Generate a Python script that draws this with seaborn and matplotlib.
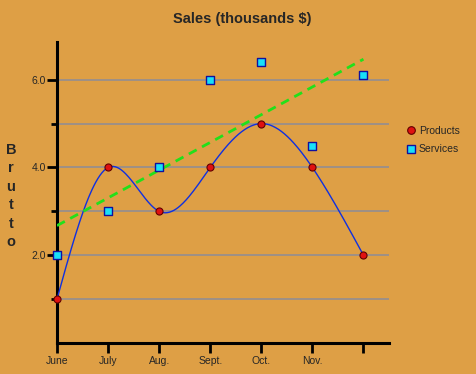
import numpy as np
import pandas as pd
import matplotlib
matplotlib.use("Agg")
import matplotlib.pyplot as plt
from matplotlib.lines import Line2D
import seaborn as sns

months = ["June", "July", "Aug.", "Sept.", "Oct.", "Nov.", ""]
products = [1.0, 4.0, 3.0, 4.0, 5.0, 4.0, 2.0]
services = [2.0, 3.0, 4.0, 6.0, 6.4, 4.5, 6.1]
ytick_major = [2.0, 4.0, 6.0]
ytick_minor = [1.0, 3.0, 5.0]
grid_levels = [1.0, 2.0, 3.0, 4.0, 5.0, 6.0]

sns.set_style("white")
plt.rcParams["font.family"] = ["Liberation Sans", "DejaVu Sans"]

bg = "#DE9F45"
fig = plt.figure(figsize=(4.76, 3.74), dpi=100, facecolor=bg)
ax = fig.add_axes([57/476, 1-343/374, (389-57)/476, (343-42)/374])
ax.set_facecolor(bg)

pos = np.arange(len(months))
df = pd.DataFrame({"pos": pos, "products": products, "services": services})

# natural cubic spline through product points (display smoothing)
def natural_spline(x, y, xs):
    x = np.asarray(x, float); y = np.asarray(y, float)
    n = len(x)
    h = np.diff(x)
    A = np.zeros((n, n)); b = np.zeros(n)
    A[0, 0] = 1; A[-1, -1] = 1
    for i in range(1, n-1):
        A[i, i-1] = h[i-1]; A[i, i] = 2*(h[i-1]+h[i]); A[i, i+1] = h[i]
        b[i] = 6*((y[i+1]-y[i])/h[i] - (y[i]-y[i-1])/h[i-1])
    M = np.linalg.solve(A, b)
    out = np.empty_like(xs)
    for k, t in enumerate(xs):
        i = min(max(np.searchsorted(x, t) - 1, 0), n-2)
        dx1 = x[i+1]-t; dx0 = t-x[i]
        out[k] = (M[i]*dx1**3 + M[i+1]*dx0**3)/(6*h[i]) + (y[i]/h[i] - M[i]*h[i]/6)*dx1 + (y[i+1]/h[i] - M[i+1]*h[i]/6)*dx0
    return out

xs = np.linspace(0, len(months)-1, 300)
curve = pd.DataFrame({"x": xs, "y": natural_spline(pos, products, xs)})

for g in grid_levels:
    ax.axhline(g, color="#8C8C98", lw=1.1, zorder=1)

sns.lineplot(data=curve, x="x", y="y", ax=ax, color="#1030E0", lw=1.0, sort=False, zorder=3)
sns.regplot(data=df, x="pos", y="services", ax=ax, scatter=False, ci=None, truncate=True,
            line_kws=dict(color="#22E01A", lw=2.0, ls=(0, (3.2, 2.2)), zorder=3))
sns.scatterplot(data=df, x="pos", y="products", ax=ax, s=26, color="#E01010", edgecolor="#600000",
                linewidth=0.8, marker="o", zorder=5, clip_on=False)
sns.scatterplot(data=df, x="pos", y="services", ax=ax, s=32, color="#18E0F8", edgecolor="#1010A0",
                linewidth=1.0, marker="s", zorder=5, clip_on=False)

ax.set_xlim(0, 6.5)
ax.set_ylim(0, 6.86)
ax.set_xticks(pos)
ax.set_xticklabels(months, fontsize=7.5)
ax.set_yticks(ytick_major)
ax.set_yticklabels([f"{v:.1f}" for v in ytick_major], fontsize=7.5)
ax.set_yticks(ytick_minor, minor=True)
ax.tick_params(axis="y", which="major", length=7, width=2, color="black", pad=1, left=True)
ax.tick_params(axis="y", which="minor", length=4, width=2, color="black", left=True)
ax.tick_params(axis="x", which="major", length=7, width=2, color="black", pad=2, bottom=True)
ax.set_xlabel(""); ax.set_ylabel("")

for s in ["top", "right"]:
    ax.spines[s].set_visible(False)
for s in ["left", "bottom"]:
    ax.spines[s].set_color("black")
    ax.spines[s].set_linewidth(2.2)

fig.text(242/476, 1-19/374, "Sales (thousands $)", ha="center", va="center",
         fontsize=10.5, fontweight="bold")
fig.text(11/476, 1-196/374, "B\nr\nu\nt\nt\no", ha="center", va="center",
         fontsize=10.5, fontweight="bold", linespacing=1.4)

handles = [Line2D([], [], ls="none", marker="o", ms=5.5, mfc="#E01010", mec="#600000", mew=0.8),
           Line2D([], [], ls="none", marker="s", ms=5.5, mfc="#18E0F8", mec="#1010A0", mew=1.0)]
fig.legend(handles, ["Products", "Services"], loc="upper left", bbox_to_anchor=(406/476, 1-126/374),
           frameon=False, fontsize=7.5, handlelength=1.0, handletextpad=0.25, borderpad=0,
           labelspacing=0.8, borderaxespad=0)

fig.savefig("out.png", dpi=100, facecolor=bg)
